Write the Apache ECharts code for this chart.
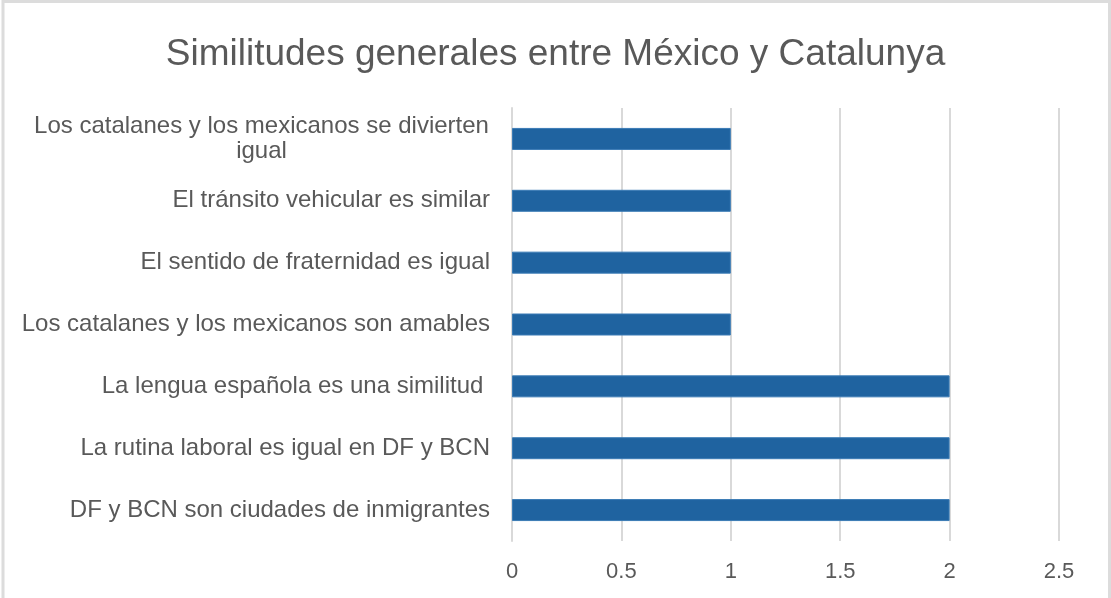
<!DOCTYPE html>
<html>
<head>
<meta charset="utf-8">
<script src="https://cdn.jsdelivr.net/npm/echarts@6/dist/echarts.min.js"></script>
<style>
  html, body { margin: 0; padding: 0; background: #fff; }
  #chart { width: 1111px; height: 598px; }
</style>
</head>
<body>
<div id="chart"></div>
<script>
// categories top to bottom, as in the picture
const categories = [
  'Los catalanes y los mexicanos se divierten\nigual',
  'El tránsito vehicular es similar',
  'El sentido de fraternidad es igual',
  'Los catalanes y los mexicanos son amables',
  'La lengua española es una similitud ',
  'La rutina laboral es igual en DF y BCN',
  'DF y BCN son ciudades de inmigrantes'
]
const values = [1, 1, 1, 1, 2, 2, 2]
const xTicks = { min: 0, max: 2.5, interval: 0.5 }

const textColor = '#595959'
const fontFam = '"Liberation Sans", Arial, sans-serif'

const chart = echarts.init(document.getElementById('chart'), null, { renderer: 'canvas' })

const option = {
  backgroundColor: '#fff',
  animation: false,
  title: {
    text: 'Similitudes generales entre México y Catalunya',
    left: 'center',
    top: 31,
    textStyle: {
      color: textColor,
      fontSize: 37,
      fontWeight: 'normal',
      fontFamily: fontFam
    }
  },
  grid: {
    left: 512,
    right: 52,
    top: 108,
    bottom: 57,
    containLabel: false
  },
  xAxis: {
    type: 'value',
    min: xTicks.min,
    max: xTicks.max,
    interval: xTicks.interval,
    axisLine: { show: false },
    axisTick: { show: false },
    splitLine: { show: true, lineStyle: { color: '#d9d9d9', width: 2 } },
    axisLabel: {
      color: textColor,
      fontSize: 22,
      fontFamily: fontFam,
      margin: 20
    }
  },
  yAxis: {
    type: 'category',
    inverse: true,
    data: categories,
    axisLine: { show: true, lineStyle: { color: '#d9d9d9', width: 2 } },
    axisTick: { show: false },
    axisLabel: {
      color: textColor,
      fontSize: 24,
      fontFamily: fontFam,
      margin: 22,
      lineHeight: 25,
      formatter: function (val) {
        if (val.indexOf('\n') >= 0) {
          return val.split('\n').map(function (s) { return '{c|' + s + '}' }).join('\n')
        }
        return val
      },
      rich: {
        c: {
          width: 457,
          align: 'center',
          fontSize: 24,
          lineHeight: 25,
          color: textColor,
          fontFamily: fontFam
        }
      }
    }
  },
  series: [
    {
      type: 'bar',
      data: values,
      barWidth: 22,
      itemStyle: {
        color: '#1F63A0',
        borderColor: '#3a7bb5',
        borderWidth: 1
      }
    }
  ],
  graphic: [
    {
      type: 'rect',
      shape: { x: 3, y: 1.5, width: 1106.5, height: 600 },
      style: { fill: 'none', stroke: '#dcdcdc', lineWidth: 3 },
      silent: true
    }
  ]
}

chart.setOption(option)
</script>
</body>
</html>
